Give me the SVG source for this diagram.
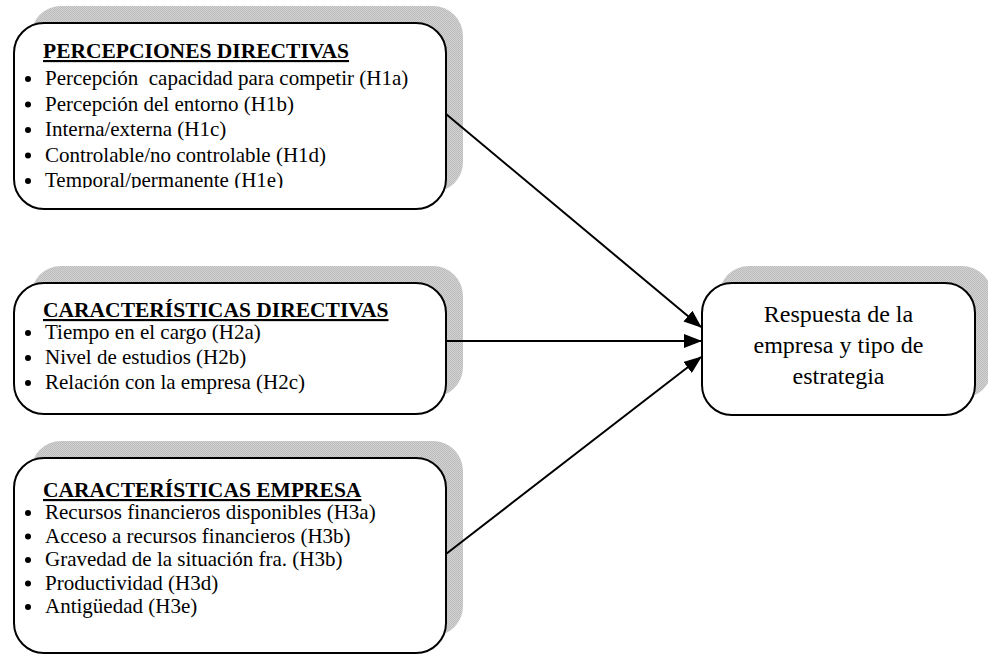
<svg xmlns="http://www.w3.org/2000/svg" width="988" height="655" viewBox="0 0 988 655">
  <defs>
    <!-- fine dotted grey texture used for the drop shadows -->
    <pattern id="shade" width="2" height="2" patternUnits="userSpaceOnUse">
      <rect width="2" height="2" fill="#d2d2d2"/>
      <rect width="1" height="1" fill="#bcbcbc"/>
      <rect x="1" y="1" width="1" height="1" fill="#bcbcbc"/>
    </pattern>
    <marker id="arrow" markerWidth="18" markerHeight="14" refX="17" refY="7" orient="auto" markerUnits="userSpaceOnUse">
      <path d="M0,0 L18,7 L0,14 Z" fill="#000"/>
    </marker>
    <!-- the text frame of the first box cuts its last line at the baseline -->
    <clipPath id="clip-h1">
      <rect x="14" y="23" width="432" height="165"/>
    </clipPath>
  </defs>
  <style>
    .shadow { fill: url(#shade); }
    .box { fill: #fff; stroke: #000; stroke-width: 2; }
    .title { font-family: "Liberation Serif", "Times New Roman", serif; font-size: 21.5px; font-weight: bold; text-decoration: underline; fill: #000; }
    .item { font-family: "Liberation Serif", "Times New Roman", serif; font-size: 21px; fill: #000; white-space: pre; }
    .center { font-family: "Liberation Serif", "Times New Roman", serif; font-size: 24px; fill: #000; text-anchor: middle; }
    .bullet { fill: #000; }
    .link { stroke: #000; stroke-width: 2; fill: none; marker-end: url(#arrow); }
  </style>

  <!-- Perceptions of management -->
  <g id="percepciones">
    <rect class="shadow" x="31" y="6" width="432" height="186" rx="30"/>
    <rect class="box" x="14" y="23" width="432" height="186" rx="30"/>
    <text class="title" x="43" y="58">PERCEPCIONES DIRECTIVAS</text>
    <g clip-path="url(#clip-h1)">
      <circle class="bullet" cx="28" cy="79" r="3"/>
      <text class="item" x="45" y="85" xml:space="preserve">Percepción  capacidad para competir (H1a)</text>
      <circle class="bullet" cx="28" cy="104.5" r="3"/>
      <text class="item" x="45" y="110.5">Percepción del entorno (H1b)</text>
      <circle class="bullet" cx="28" cy="130" r="3"/>
      <text class="item" x="45" y="136">Interna/externa (H1c)</text>
      <circle class="bullet" cx="28" cy="155.5" r="3"/>
      <text class="item" x="45" y="161.5">Controlable/no controlable (H1d)</text>
      <circle class="bullet" cx="28" cy="181" r="3"/>
      <text class="item" x="45" y="187">Temporal/permanente (H1e)</text>
    </g>
  </g>

  <!-- Characteristics of management -->
  <g id="caracteristicas-directivas">
    <rect class="shadow" x="31" y="266" width="432" height="131" rx="30"/>
    <rect class="box" x="14" y="283" width="432" height="131" rx="30"/>
    <text class="title" x="43" y="317">CARACTERÍSTICAS DIRECTIVAS</text>
    <circle class="bullet" cx="28" cy="333" r="3"/>
    <text class="item" x="45" y="339">Tiempo en el cargo (H2a)</text>
    <circle class="bullet" cx="28" cy="358" r="3"/>
    <text class="item" x="45" y="364">Nivel de estudios (H2b)</text>
    <circle class="bullet" cx="28" cy="383" r="3"/>
    <text class="item" x="45" y="389">Relación con la empresa (H2c)</text>
  </g>

  <!-- Company characteristics -->
  <g id="caracteristicas-empresa">
    <rect class="shadow" x="31" y="441" width="432" height="195" rx="30"/>
    <rect class="box" x="14" y="458" width="432" height="195" rx="30"/>
    <text class="title" x="43" y="497">CARACTERÍSTICAS EMPRESA</text>
    <circle class="bullet" cx="28" cy="513" r="3"/>
    <text class="item" x="45" y="519">Recursos financieros disponibles (H3a)</text>
    <circle class="bullet" cx="28" cy="536.5" r="3"/>
    <text class="item" x="45" y="542.5">Acceso a recursos financieros (H3b)</text>
    <circle class="bullet" cx="28" cy="560" r="3"/>
    <text class="item" x="45" y="566">Gravedad de la situación fra. (H3b)</text>
    <circle class="bullet" cx="28" cy="583.5" r="3"/>
    <text class="item" x="45" y="589.5">Productividad (H3d)</text>
    <circle class="bullet" cx="28" cy="607" r="3"/>
    <text class="item" x="45" y="613">Antigüedad (H3e)</text>
  </g>

  <!-- Outcome: company response and strategy -->
  <g id="respuesta">
    <rect class="shadow" x="719" y="266" width="273" height="132" rx="30"/>
    <rect class="box" x="702" y="283" width="273" height="132" rx="30"/>
    <text class="center" x="838.5" y="322">Respuesta de la</text>
    <text class="center" x="838.5" y="353">empresa y tipo de</text>
    <text class="center" x="838.5" y="384">estrategia</text>
  </g>

  <g id="connectors">
    <line class="link" x1="446" y1="114" x2="701" y2="327"/>
    <line class="link" x1="446" y1="341" x2="701" y2="341"/>
    <line class="link" x1="446" y1="554" x2="701" y2="357"/>
  </g>
</svg>
